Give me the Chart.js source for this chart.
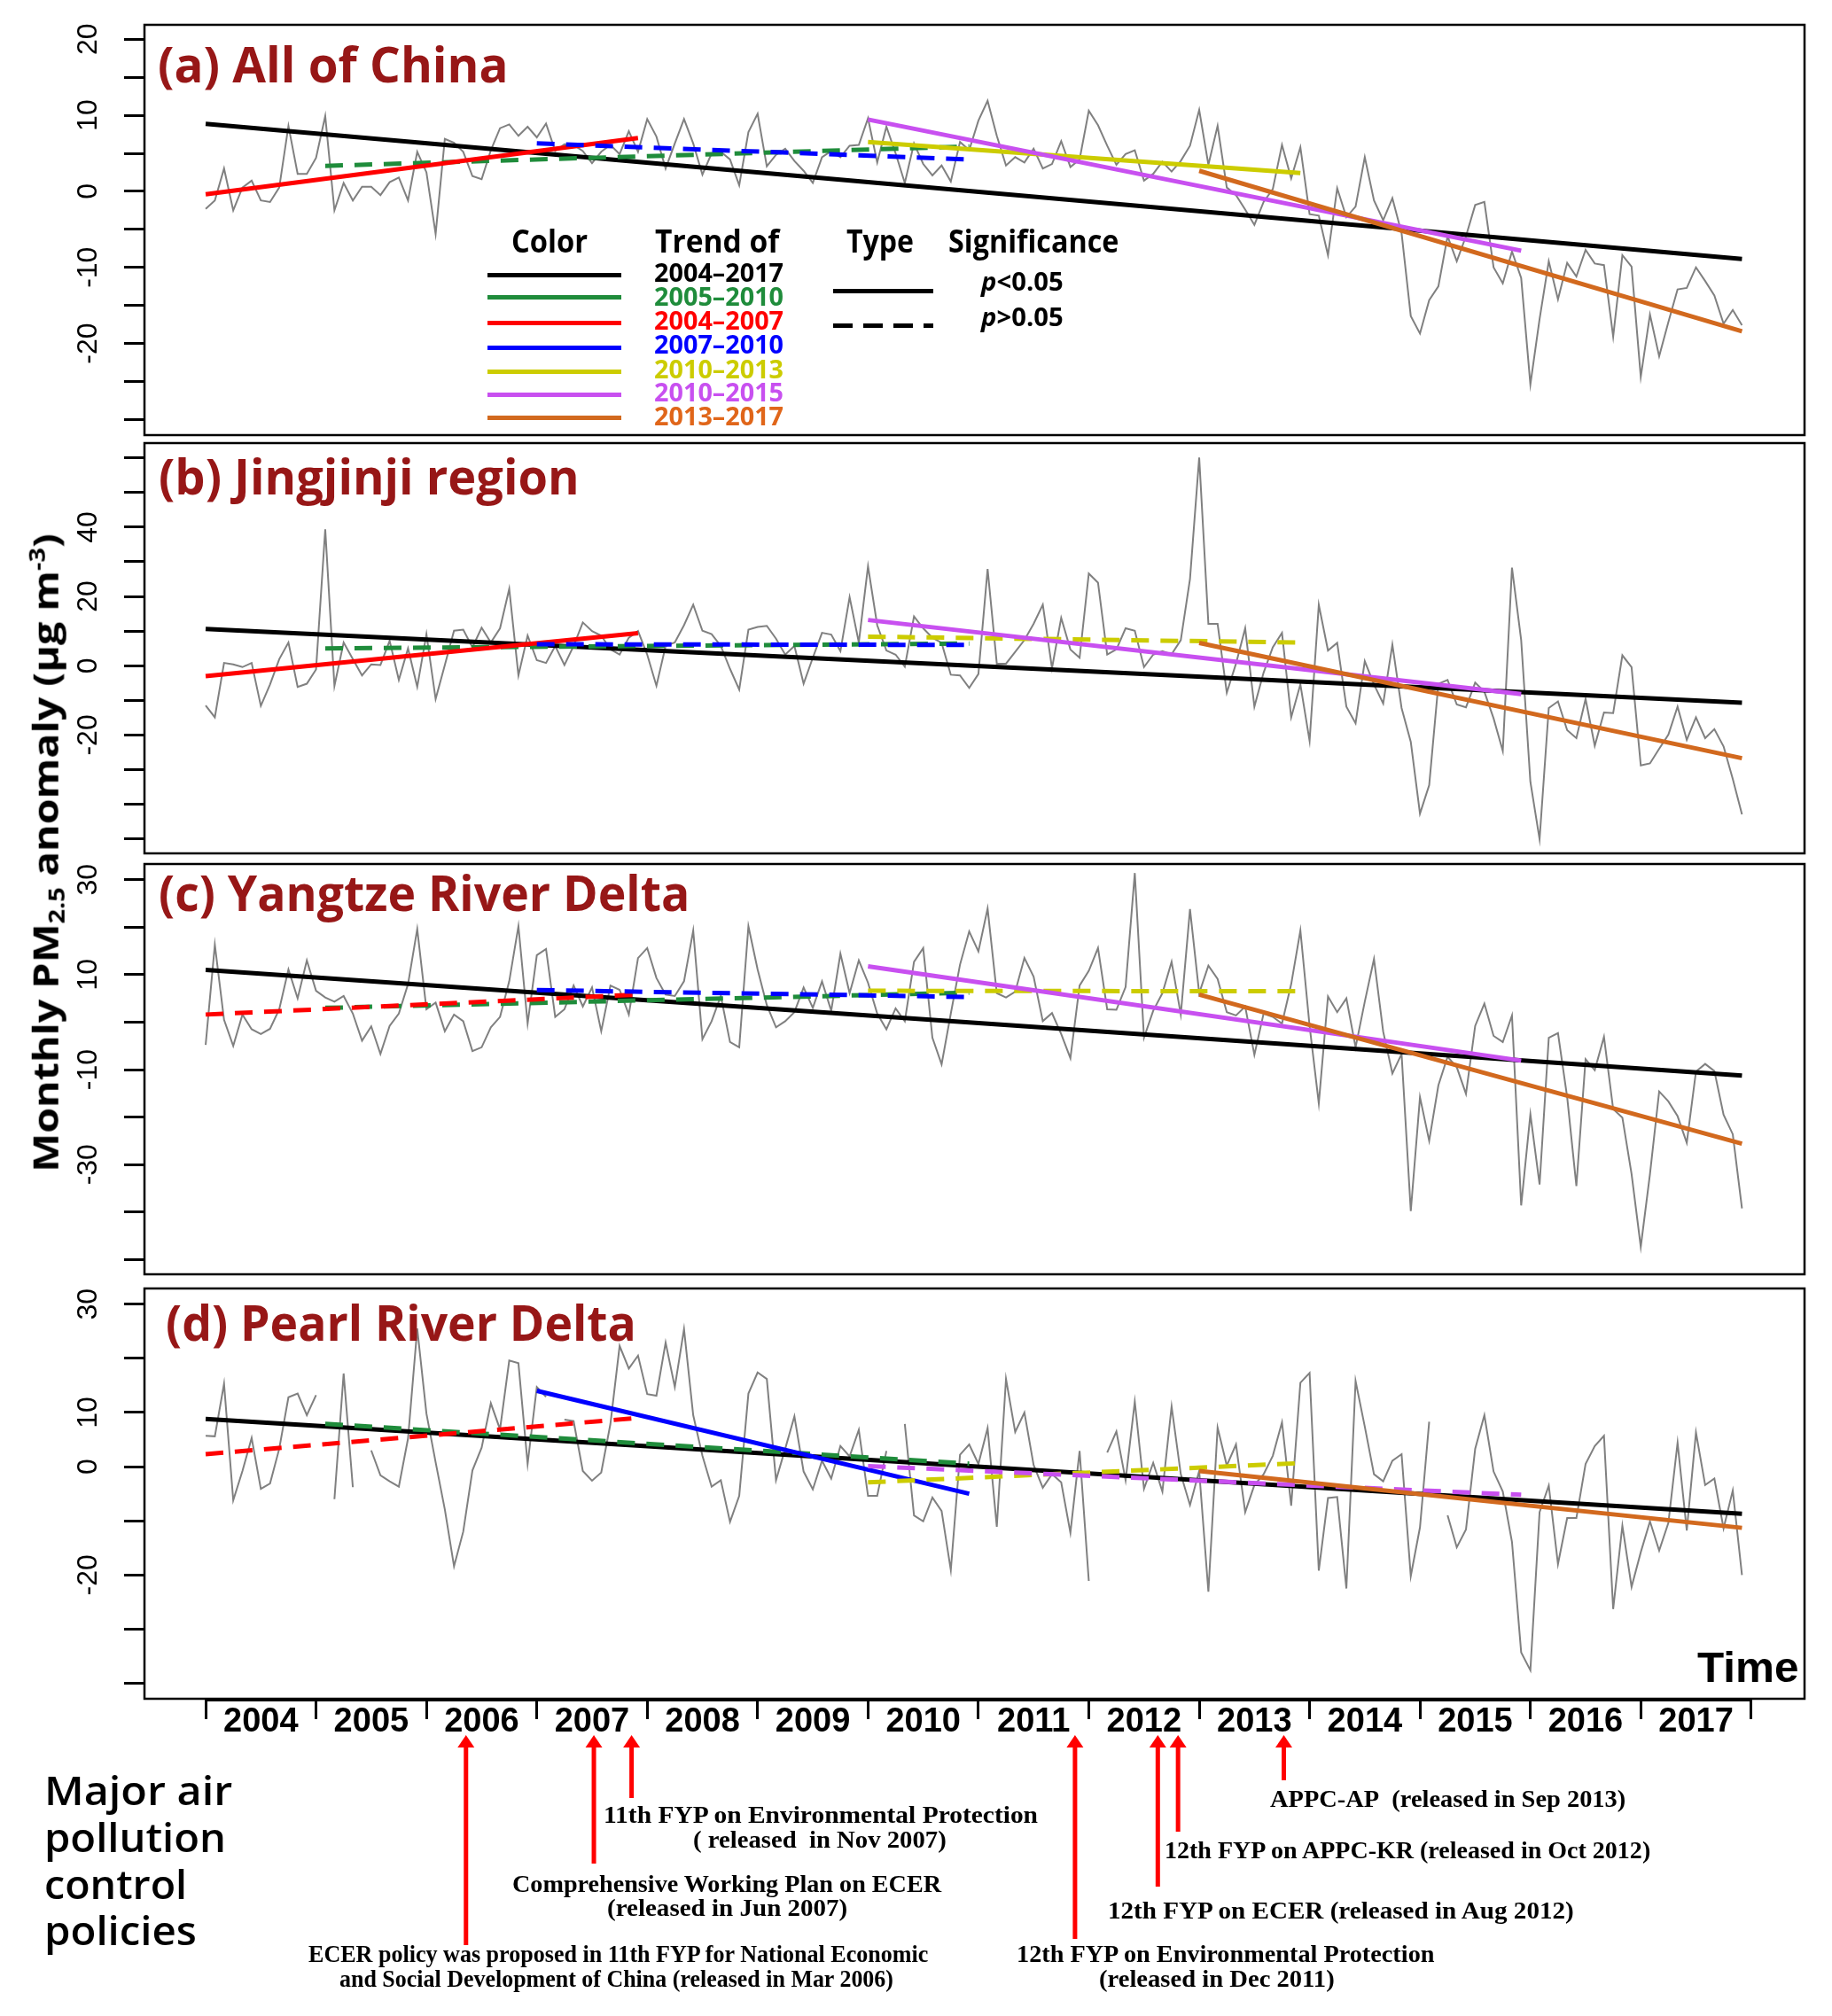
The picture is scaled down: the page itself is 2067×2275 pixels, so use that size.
<!DOCTYPE html>
<html><head><meta charset="utf-8">
<script src="https://cdn.jsdelivr.net/npm/chart.js"></script>
<style>
html,body{margin:0;padding:0;background:#fff;}
#page{position:relative;width:2067px;height:2275px;overflow:hidden;background:#fff;}
canvas{position:absolute;left:0;}
.t{position:absolute;white-space:nowrap;line-height:1;transform-origin:0 50%;}
.title{font:700 55px 'Open Sans',sans-serif;color:#971717;}
.lh{font:700 35px 'Open Sans',sans-serif;color:#000;}
.lp{font:700 28px 'Open Sans',sans-serif;}
.ann{font:700 27px 'Liberation Serif',serif;color:#000;}
.maj{font:600 46px 'Open Sans',sans-serif;color:#000;}
.time{font:700 49px 'Liberation Sans',sans-serif;color:#000;}
.sw{position:absolute;height:5px;}
#ytitle{position:absolute;white-space:nowrap;line-height:1;font:700 40px 'Open Sans',sans-serif;color:#000;transform-origin:50% 50%;}
#ytitle sub{font-size:0.62em;vertical-align:-0.28em;}
#ytitle sup{font-size:0.62em;vertical-align:0.62em;}
</style></head>
<body><div id="page">
<canvas id="cA"></canvas><canvas id="cB"></canvas><canvas id="cC"></canvas><canvas id="cD"></canvas>

<div class="t title" data-x="178" data-b="93" data-w="396">(a) All of China</div>
<div class="t title" data-x="179" data-b="558" data-w="475">(b) Jingjinji region</div>
<div class="t title" data-x="179" data-b="1028" data-w="599">(c) Yangtze River Delta</div>
<div class="t title" data-x="187" data-b="1513" data-w="531">(d) Pearl River Delta</div>

<div class="t lh" data-x="577" data-b="285" data-w="86">Color</div>
<div class="t lh" data-x="739" data-b="285" data-w="140">Trend of</div>
<div class="t lh" data-x="955" data-b="285" data-w="76">Type</div>
<div class="t lh" data-x="1070" data-b="285" data-w="192">Significance</div>

<div class="t lp" style="color:#000000" data-x="738" data-b="318" data-w="146">2004–2017</div>
<div class="t lp" style="color:#1F8C3B" data-x="738" data-b="345" data-w="146">2005–2010</div>
<div class="t lp" style="color:#FF0000" data-x="738" data-b="372" data-w="146">2004–2007</div>
<div class="t lp" style="color:#0000FF" data-x="738" data-b="399" data-w="146">2007–2010</div>
<div class="t lp" style="color:#CCCC00" data-x="738" data-b="427" data-w="146">2010–2013</div>
<div class="t lp" style="color:#C850F0" data-x="738" data-b="453" data-w="146">2010–2015</div>
<div class="t lp" style="color:#E0661A" data-x="738" data-b="480" data-w="146">2013–2017</div>
<div class="t lp" style="color:#000" data-x="1107" data-b="328" data-w="93"><i>p</i>&lt;0.05</div>
<div class="t lp" style="color:#000" data-x="1107" data-b="368" data-w="93"><i>p</i>&gt;0.05</div>

<div class="sw" style="left:550px;top:307.5px;width:151px;background:#000000"></div>
<div class="sw" style="left:550px;top:332.5px;width:151px;background:#1F8C3B"></div>
<div class="sw" style="left:550px;top:361.5px;width:151px;background:#FF0000"></div>
<div class="sw" style="left:550px;top:389.5px;width:151px;background:#0000FF"></div>
<div class="sw" style="left:550px;top:416.5px;width:151px;background:#CCCC00"></div>
<div class="sw" style="left:550px;top:443px;width:151px;background:#C850F0"></div>
<div class="sw" style="left:550px;top:468.5px;width:151px;background:#D2691E"></div>
<div class="sw" style="left:940px;top:325.5px;width:113px;background:#000"></div>
<div class="sw" style="left:940px;top:364.5px;width:113px;background:repeating-linear-gradient(to right,#000 0 22px,transparent 22px 34px)"></div>

<div id="ytitle">Monthly PM<sub>2.5</sub> anomaly (μg m<sup>-3</sup>)</div>

<div class="t time" data-x="1915" data-b="1898" data-w="114">Time</div>

<div class="t maj" data-x="50" data-b="2037" data-w="212">Major air</div>
<div class="t maj" data-x="50" data-b="2090" data-w="205">pollution</div>
<div class="t maj" data-x="50" data-b="2143" data-w="161">control</div>
<div class="t maj" data-x="50" data-b="2195" data-w="172">policies</div>

<div class="t ann" data-x="681" data-b="2057" data-w="490">11th FYP on Environmental Protection</div>
<div class="t ann" data-x="782" data-b="2085" data-w="286">(&nbsp;released&nbsp; in Nov 2007)</div>
<div class="t ann" data-x="578" data-b="2135" data-w="484">Comprehensive Working Plan on ECER</div>
<div class="t ann" data-x="685" data-b="2162" data-w="271">(released in Jun 2007)</div>
<div class="t ann" data-x="348" data-b="2214" data-w="699">ECER policy was proposed in 11th FYP for National Economic</div>
<div class="t ann" data-x="383" data-b="2242" data-w="625">and Social Development of China (released in Mar 2006)</div>
<div class="t ann" data-x="1433" data-b="2039" data-w="401">APPC-AP&nbsp; (released in Sep 2013)</div>
<div class="t ann" data-x="1314" data-b="2097" data-w="548">12th FYP on APPC-KR (released in Oct 2012)</div>
<div class="t ann" data-x="1250" data-b="2165" data-w="526">12th FYP on ECER (released in Aug 2012)</div>
<div class="t ann" data-x="1147" data-b="2214" data-w="472">12th FYP on Environmental Protection</div>
<div class="t ann" data-x="1240" data-b="2242" data-w="266">(released in Dec 2011)</div>
</div>

<script>
// ---------------- data ----------------
const years = [2004,2005,2006,2007,2008,2009,2010,2011,2012,2013,2014,2015,2016,2017];
const yearTickMonths = [0,12,24,36,48,60,72,84,96,108,120,132,144,156,168];
const xMin = -6.65, xMax = 173.8;
const periods = ['2004–2017','2005–2010','2004–2007','2007–2010','2010–2013','2010–2015','2013–2017'];
const trendColors = ['#000000','#1F8C3B','#FF0000','#0000FF','#CCCC00','#C850F0','#D2691E'];

const valuesA = [-2.3,-1.2,3.0,-2.5,0.5,1.4,-1.2,-1.4,0.5,8.6,2.3,2.3,
 4.4,9.9,-2.5,1.1,-1.2,0.6,0.6,-0.5,1.2,1.8,-1.2,5.2,
 2.5,-5.6,6.9,6.4,5.2,2.0,1.6,5.4,8.3,8.8,7.3,8.5,
 7.1,8.9,5.3,6.2,6.1,5.3,3.7,5.2,6.1,4.9,7.9,5.2,
 9.5,7.2,3.0,6.3,9.5,6.3,2.2,5.0,5.2,4.2,0.8,7.8,
 10.2,3.3,4.8,5.6,4.0,2.7,1.1,4.5,5.3,4.5,6.0,6.1,
 9.6,3.8,8.5,5.0,1.1,6.3,3.6,2.1,3.4,1.3,6.5,5.4,
 9.3,11.9,7.3,3.4,4.5,3.8,5.6,3.0,3.6,6.6,3.2,4.2,
 10.6,8.7,6.0,3.5,4.9,5.4,1.4,2.3,3.9,2.6,4.0,6.0,
 10.7,3.5,8.6,0.5,-0.5,-2.4,-4.4,-1.4,0.3,6.1,1.7,5.8,
 -3.0,-3.2,-8.4,0.4,-3.4,-2.0,4.5,-1.2,-3.8,-0.9,-5.5,-16.4,
 -18.7,-14.3,-12.5,-5.9,-9.2,-5.9,-1.8,-1.4,-10.0,-12.1,-7.9,-11.4,
 -25.4,-16.8,-9.2,-14.2,-9.4,-11.2,-7.7,-9.5,-9.7,-19.1,-8.4,-9.9,
 -24.4,-16.2,-21.7,-17.2,-12.9,-12.7,-10.0,-11.8,-13.7,-17.4,-15.6,-17.6];

const valuesB = [-11.5,-14.9,0.8,0.4,-0.4,0.8,-11.6,-5.4,1.9,6.7,-6.1,-5.2,
 -1.1,39.4,-5.8,6.7,1.9,-2.8,0.4,0.2,7.2,-4.1,5.0,-6.1,
 9.1,-9.6,0.2,10.1,10.4,5.3,11.0,6.7,10.8,22.2,-2.8,8.7,
 1.6,0.8,5.7,0.2,5.7,12.5,10.0,8.7,4.7,3.2,8.1,10.0,
 3.2,-5.8,5.7,6.7,11.7,17.6,10.1,9.1,5.7,-0.9,-6.9,10.4,
 11.2,11.5,7.8,3.2,5.7,-5.2,2.3,9.5,9.0,4.2,19.8,6.7,
 28.7,11.7,4.4,3.2,-0.3,14.2,10.8,8.1,6.6,-2.6,-2.8,-6.4,
 -2.4,27.9,0.6,0.6,4.0,7.4,12.1,17.6,-0.7,13.8,4.7,2.3,
 26.6,24.0,3.2,4.7,10.8,10.1,-0.4,3.2,4.2,3.3,7.4,25.0,
 60.1,12.1,12.1,-7.8,0.6,10.8,-11.8,-2.0,5.3,9.5,-14.9,-5.4,
 -21.7,17.6,4.4,6.6,-11.8,-16.6,1.3,-5.4,-10.9,6.1,-12.2,-22.0,
 -42.7,-34.5,-5.2,-4.1,-11.2,-12.0,-4.9,-7.5,-15.2,-24.6,28.3,7.4,
 -33.5,-50.1,-12.2,-10.3,-18.6,-20.9,-9.6,-23.1,-13.5,-13.7,3.0,-0.4,
 -28.8,-28.2,-24.0,-19.9,-11.8,-21.4,-14.9,-20.9,-18.3,-23.3,-32.7,-42.9];

const valuesC = [-4.8,16.3,0.5,-5.0,1.6,-1.5,-2.5,-1.4,2.7,11.1,5.0,13.0,
 6.6,5.2,4.3,5.5,1.8,-3.9,-0.9,-6.7,-0.8,1.8,8.0,19.6,
 2.7,4.1,-1.9,1.6,0.2,-6.1,-5.3,-1.1,1.1,8.6,20.2,-0.3,
 14.1,15.4,1.1,2.7,7.7,3.3,7.3,-1.9,7.7,6.8,1.6,13.5,
 15.6,9.3,5.8,5.5,8.6,19.3,-3.6,0.2,5.5,-4.2,-5.3,20.2,
 11.1,3.6,-1.1,0.2,2.1,7.3,3.0,8.6,2.4,14.4,6.1,13.0,
 8.3,1.8,-1.5,2.9,0.2,12.7,15.6,-3.3,-8.9,1.8,12.1,19.1,
 14.9,23.9,6.1,5.2,6.4,13.5,9.6,0.2,1.9,-2.5,-7.6,7.7,
 10.8,15.6,2.7,2.6,7.4,31.4,-3.3,2.4,6.1,12.7,1.6,23.8,
 6.1,11.9,9.1,2.1,1.4,3.3,-6.9,1.8,1.1,-0.3,8.0,19.3,
 -0.8,-17.1,5.4,2.1,5.0,-5.3,4.3,13.3,-2.0,-10.8,-6.7,-39.8,
 -15.8,-25.0,-13.3,-7.3,-9.5,-15.1,-0.8,3.9,-2.9,-4.2,1.4,-38.6,
 -19.4,-34.2,-3.3,-2.3,-15.8,-34.5,-7.8,-10.1,-3.1,-18.3,-20.1,-32.0,
 -47.3,-32.0,-14.6,-16.7,-19.8,-25.4,-10.4,-8.8,-10.3,-19.5,-23.6,-39.2];

const valuesD = [5.7,5.6,15.3,-6.2,-0.8,5.3,-4.1,-3.1,3.3,12.8,13.5,9.5,
 13.2,null,-6.0,17.2,-3.8,null,3.0,-1.6,-2.7,-3.7,5.2,25.5,
 9.8,0.8,-7.9,-18.4,-12.0,-0.7,3.5,11.7,6.9,19.6,19.1,0.5,
 14.7,12.9,null,8.7,8.4,-0.8,-2.6,-1.1,7.9,22.3,18.1,20.5,
 13.4,13.1,22.9,14.7,25.4,9.5,2.0,-3.7,-2.5,-10.2,-5.4,13.5,
 17.4,16.2,-2.5,3.3,9.3,-0.9,-4.2,1.1,-2.2,3.8,1.9,6.8,
 -5.4,-5.4,2.9,null,7.9,-9.0,-10.1,-5.7,-8.2,-19.1,2.2,4.1,
 0.5,7.1,-11.1,16.2,6.4,10.0,0.3,-3.9,-1.4,-2.9,-12.2,2.9,
 -21.1,null,2.6,6.5,-2.5,12.0,-4.1,0.7,-4.6,11.1,-1.4,-7.1,
 -0.8,-23.1,7.2,0.2,4.1,-8.4,-3.4,-1.4,2.0,8.2,-7.2,15.5,
 17.3,-19.2,-5.8,-5.6,-22.5,15.8,7.4,-1.4,-2.7,1.1,2.3,-20.2,
 -11.2,8.3,null,-9.0,-14.9,-11.6,3.3,9.5,-0.9,-4.6,-13.9,-34.3,
 -37.6,-8.4,-3.5,-18.0,-9.5,-9.5,0.5,3.8,5.7,-26.3,-10.9,-22.2,
 -15.8,-10.1,-15.5,-10.4,4.4,-11.8,6.3,-3.4,-2.2,-11.4,-4.4,-20.0];

// trend rows in period order: [startMonth, startValue, endMonth, endValue, significant]
const trendsA = [[0,8.87,167,-8.9,1],[13,3.35,83,5.9,0],[0,-0.4,47,7.0,1],[36,6.3,83,4.2,0],[72,6.5,119,2.4,1],[72,9.45,143,-7.8,1],[108,2.7,167,-18.4,1]];
const trendsB = [[0,10.6,167,-10.7,1],[13,5.0,83,6.4,0],[0,-3.0,47,9.4,1],[36,6.2,83,6.0,0],[72,8.4,119,6.7,0],[72,13.2,143,-8.2,1],[108,6.6,167,-26.7,1]];
const trendsC = [[0,11.0,167,-11.25,1],[13,3.0,83,6.2,0],[0,1.6,47,5.8,0],[36,6.75,83,5.3,0],[72,6.6,119,6.5,0],[72,11.75,143,-8.1,1],[108,5.8,167,-25.6,1]];
const trendsD = [[0,8.8,167,-8.7,1],[13,7.9,83,0.55,0],[0,2.3,47,9.0,0],[36,14.0,83,-5.0,1],[72,-2.9,119,0.65,0],[72,0.1,143,-5.2,0],[108,-0.8,167,-11.3,1]];

const yTicksA = [-30,-25,-20,-15,-10,-5,0,5,10,15,20];
const yLabelsA = [20,10,0,-10,-20];
const yTicksB = [-50,-40,-30,-20,-10,0,10,20,30,40,50,60];
const yLabelsB = [40,20,0,-20];
const yTicksC = [-50,-40,-30,-20,-10,0,10,20,30];
const yLabelsC = [30,10,-10,-30];
const yTicksD = [-40,-30,-20,-10,0,10,20,30];
const yLabelsD = [30,10,0,-20];
const yRangeA = [-32.06, 21.9];
const yRangeB = [-54.17, 64.27];
const yRangeC = [-53.1, 33.3];
const yRangeD = [-42.86, 32.9];

// policy release dates, in months since Jan 2004
const policyMonths = [28.3, 42.2, 46.3, 94.5, 103.5, 105.7, 117.2];

// ---------------- layout ----------------
const PAGE_W = 2067, PAGE_H = 2275, M = 50, AXIS_H = 60;
const geom = {A:{top:28,bottom:491}, B:{top:500,bottom:963}, C:{top:975,bottom:1438}, D:{top:1454,bottom:1917}};
const arrowTipY = 1958;
const arrowEndY = [2195, 2103, 2029, 2188, 2129, 2067, 2009];

const boxPlugin = {
  id:'box',
  afterDatasetsDraw(chart){
    const a = chart.chartArea, c = chart.ctx;
    c.save(); c.strokeStyle = '#000'; c.lineWidth = 2.5;
    c.strokeRect(a.left, a.top, a.right - a.left, a.bottom - a.top);
    c.restore();
  }
};

function makeChart(id, g, values, trends, yr, yTicks, yLabels, bottomAxis){
  const cv = document.getElementById(id);
  const cTop = g.top - M;
  const ph = g.bottom - g.top;
  const h = bottomAxis ? (PAGE_H - cTop) : (ph + 2*M);
  cv.width = PAGE_W; cv.height = h;
  cv.style.top = cTop + 'px'; cv.style.width = PAGE_W + 'px'; cv.style.height = h + 'px';
  const padBottom = bottomAxis ? (h - M - ph - AXIS_H) : M;

  const datasets = [];
  for (let i = trends.length - 1; i >= 0; i--) {
    const r = trends[i];
    datasets.push({
      label: periods[i],
      data: [{x:r[0], y:r[1]}, {x:r[2], y:r[3]}],
      borderColor: trendColors[i], borderWidth: 5,
      borderDash: r[4] ? [] : [20, 13],
      borderCapStyle: 'butt', pointRadius: 0, fill: false
    });
  }
  datasets.push({
    label: 'monthly anomaly',
    data: values.map((v, i) => ({x:i, y:v})),
    borderColor: '#808080', borderWidth: 2, pointRadius: 0,
    spanGaps: false, tension: 0, fill: false
  });

  const plugins = [boxPlugin];
  if (bottomAxis) {
    plugins.push({
      id:'axisAndPolicies',
      afterDraw(chart){
        const xs = chart.scales.x, c = chart.ctx, a = chart.chartArea;
        c.save();
        c.strokeStyle = '#000'; c.lineWidth = 4;
        c.beginPath();
        c.moveTo(xs.getPixelForValue(yearTickMonths[0]), a.bottom + 1);
        c.lineTo(xs.getPixelForValue(yearTickMonths[yearTickMonths.length-1]), a.bottom + 1);
        c.stroke();
        c.fillStyle = '#FF0000';
        policyMonths.forEach((m, i) => {
          const px = xs.getPixelForValue(m);
          const tip = arrowTipY - cTop, end = arrowEndY[i] - cTop;
          c.fillRect(px - 2.5, tip + 12, 5, end - tip - 12);
          c.beginPath();
          c.moveTo(px, tip); c.lineTo(px - 9.5, tip + 14); c.lineTo(px + 9.5, tip + 14);
          c.closePath(); c.fill();
        });
        c.restore();
      }
    });
  }

  return new Chart(cv, {
    type: 'line',
    data: { datasets },
    plugins,
    options: {
      responsive: false, animation: false, devicePixelRatio: 1,
      layout: { autoPadding: false, padding: { top: M, bottom: padBottom, left: 0, right: PAGE_W - 2036 } },
      plugins: { legend: { display: false }, tooltip: { enabled: false } },
      elements: { point: { radius: 0 }, line: { tension: 0 } },
      scales: {
        x: bottomAxis ? {
          type: 'linear', min: xMin, max: xMax, position: 'bottom',
          afterBuildTicks: s => { s.ticks = yearTickMonths.map(v => ({value: v})); },
          afterFit: s => { s.height = AXIS_H; },
          grid: { drawOnChartArea: false, drawTicks: true, tickLength: 23, lineWidth: 3, color: '#000' },
          border: { display: false },
          ticks: {
            autoSkip: false, maxRotation: 0, minRotation: 0, labelOffset: 62.3, padding: -15.5,
            color: '#000', font: { family: 'Liberation Sans', size: 38, weight: 'bold', lineHeight: 1 },
            callback: v => { const k = yearTickMonths.indexOf(v); return (k >= 0 && k < years.length) ? String(years[k]) : ''; }
          }
        } : { type: 'linear', min: xMin, max: xMax, display: false },
        y: {
          type: 'linear', min: yr[0], max: yr[1], position: 'left',
          afterBuildTicks: s => { s.ticks = yTicks.map(v => ({value: v})); },
          afterFit: s => { s.width = 163; },
          grid: { drawOnChartArea: false, drawTicks: true, tickLength: 23, lineWidth: 3, color: '#000' },
          border: { display: false },
          ticks: {
            autoSkip: false, minRotation: 90, maxRotation: 90, crossAlign: 'center', padding: 17,
            color: '#000', font: { family: 'Liberation Sans', size: 32 },
            callback: v => yLabels.includes(v) ? String(v) : ''
          }
        }
      }
    }
  });
}

makeChart('cA', geom.A, valuesA, trendsA, yRangeA, yTicksA, yLabelsA, false);
makeChart('cB', geom.B, valuesB, trendsB, yRangeB, yTicksB, yLabelsB, false);
makeChart('cC', geom.C, valuesC, trendsC, yRangeC, yTicksC, yLabelsC, false);
makeChart('cD', geom.D, valuesD, trendsD, yRangeD, yTicksD, yLabelsD, true);

// ---------------- text placement ----------------
function placeText(el){
  const x = +el.dataset.x, b = +el.dataset.b, w = +el.dataset.w;
  el.style.left = x + 'px'; el.style.top = '0px';
  const probe = document.createElement('span');
  probe.style.cssText = 'display:inline-block;width:0;height:0;vertical-align:baseline;';
  el.appendChild(probe);
  const base = probe.offsetTop;
  el.removeChild(probe);
  const nat = el.offsetWidth;
  el.style.top = (b - base) + 'px';
  if (w && nat) el.style.transform = 'scaleX(' + (w / nat) + ')';
}
document.querySelectorAll('.t').forEach(placeText);
(function(){
  const el = document.getElementById('ytitle');
  const w = el.offsetWidth, h = el.offsetHeight;
  el.style.left = (51 - w/2) + 'px';
  el.style.top = (962 - h/2) + 'px';
  el.style.transform = 'rotate(-90deg) scaleX(' + (720 / w) + ')';
})();
</script>
</body></html>
